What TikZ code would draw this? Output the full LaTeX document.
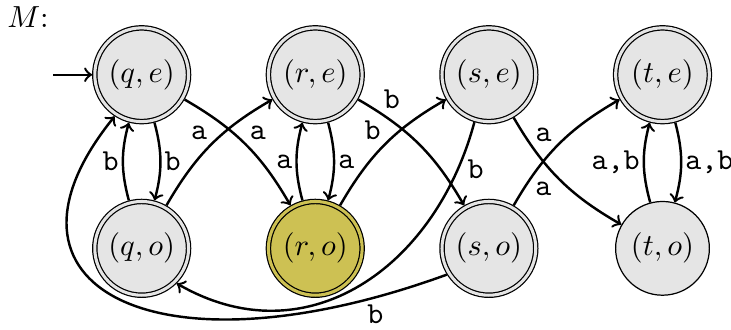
\documentclass[tikz,border=0pt]{standalone}

\definecolor{finalfill}{RGB}{205,193,83}

\begin{document}
\begin{tikzpicture}[
  st/.style={circle,draw,fill=gray!20,minimum size=1.08cm,inner sep=1pt},
  acc/.style={st,double=gray!20,double distance=1pt,outer sep=0.9pt},
  tr/.style={->,thick},
  lbl/.style={auto,font=\ttfamily,inner sep=1pt}]
\useasboundingbox (-1.632,-2.93) rectangle (6.789,0.861);

\node[anchor=base west,inner sep=0] (mlab) at (-1.555,0.542) {$M$:};

\node[acc] (q-e) at (0,0) {$(q,e)$};
\node[acc] (r-e) at (2,0) {$(r,e)$};
\node[acc] (s-e) at (4,0) {$(s,e)$};
\node[acc] (t-e) at (6,0) {$(t,e)$};
\node[acc] (q-o) at (0,-2) {$(q,o)$};
\node[acc,fill=finalfill,double=finalfill] (r-o) at (2,-2) {$(r,o)$};
\node[acc] (s-o) at (4,-2) {$(s,o)$};
\node[st] (t-o) at (6,-2) {$(t,o)$};

\coordinate (init) at (-1.02,0);
\draw[tr] (init) -- (q-e);

\draw[tr] (q-e) to[bend left=15] node[lbl] {b} (q-o);
\draw[tr] (q-o) to[bend left=15] node[lbl] {b} (q-e);
\draw[tr] (r-e) to[bend left=15] node[lbl] {a} (r-o);
\draw[tr] (r-o) to[bend left=15] node[lbl] {a} (r-e);
\draw[tr] (t-e) to[bend left=15] node[lbl] {a,b} (t-o);
\draw[tr] (t-o) to[bend left=15] node[lbl] {a,b} (t-e);

\draw[tr] (q-e) to[bend left=15] node[lbl] {a} (r-o);
\draw[tr] (q-o) to[bend left=15] node[lbl] {a} (r-e);
\draw[tr] (r-e) to[bend left=15] node[lbl,pos=0.15] {b} (s-o);
\draw[tr] (r-o) to[bend left=15] node[lbl] {b} (s-e);
\draw[tr] (s-e) to[bend right=15] node[lbl,pos=0.2] {a} (t-o);
\draw[tr] (s-o) to[bend left=15] node[lbl,pos=0.2,swap] {a} (t-e);

\draw[tr] (s-e.253) .. controls +(255:1.73) and +(-30:1.73) .. (q-o.-45) node[lbl,pos=0.08] {b};
\draw[tr] (s-o.212) .. controls +(200:3.57) and +(231:2.53) .. (q-e.237) node[lbl,pos=0.1] {b};
\end{tikzpicture}
\end{document}
